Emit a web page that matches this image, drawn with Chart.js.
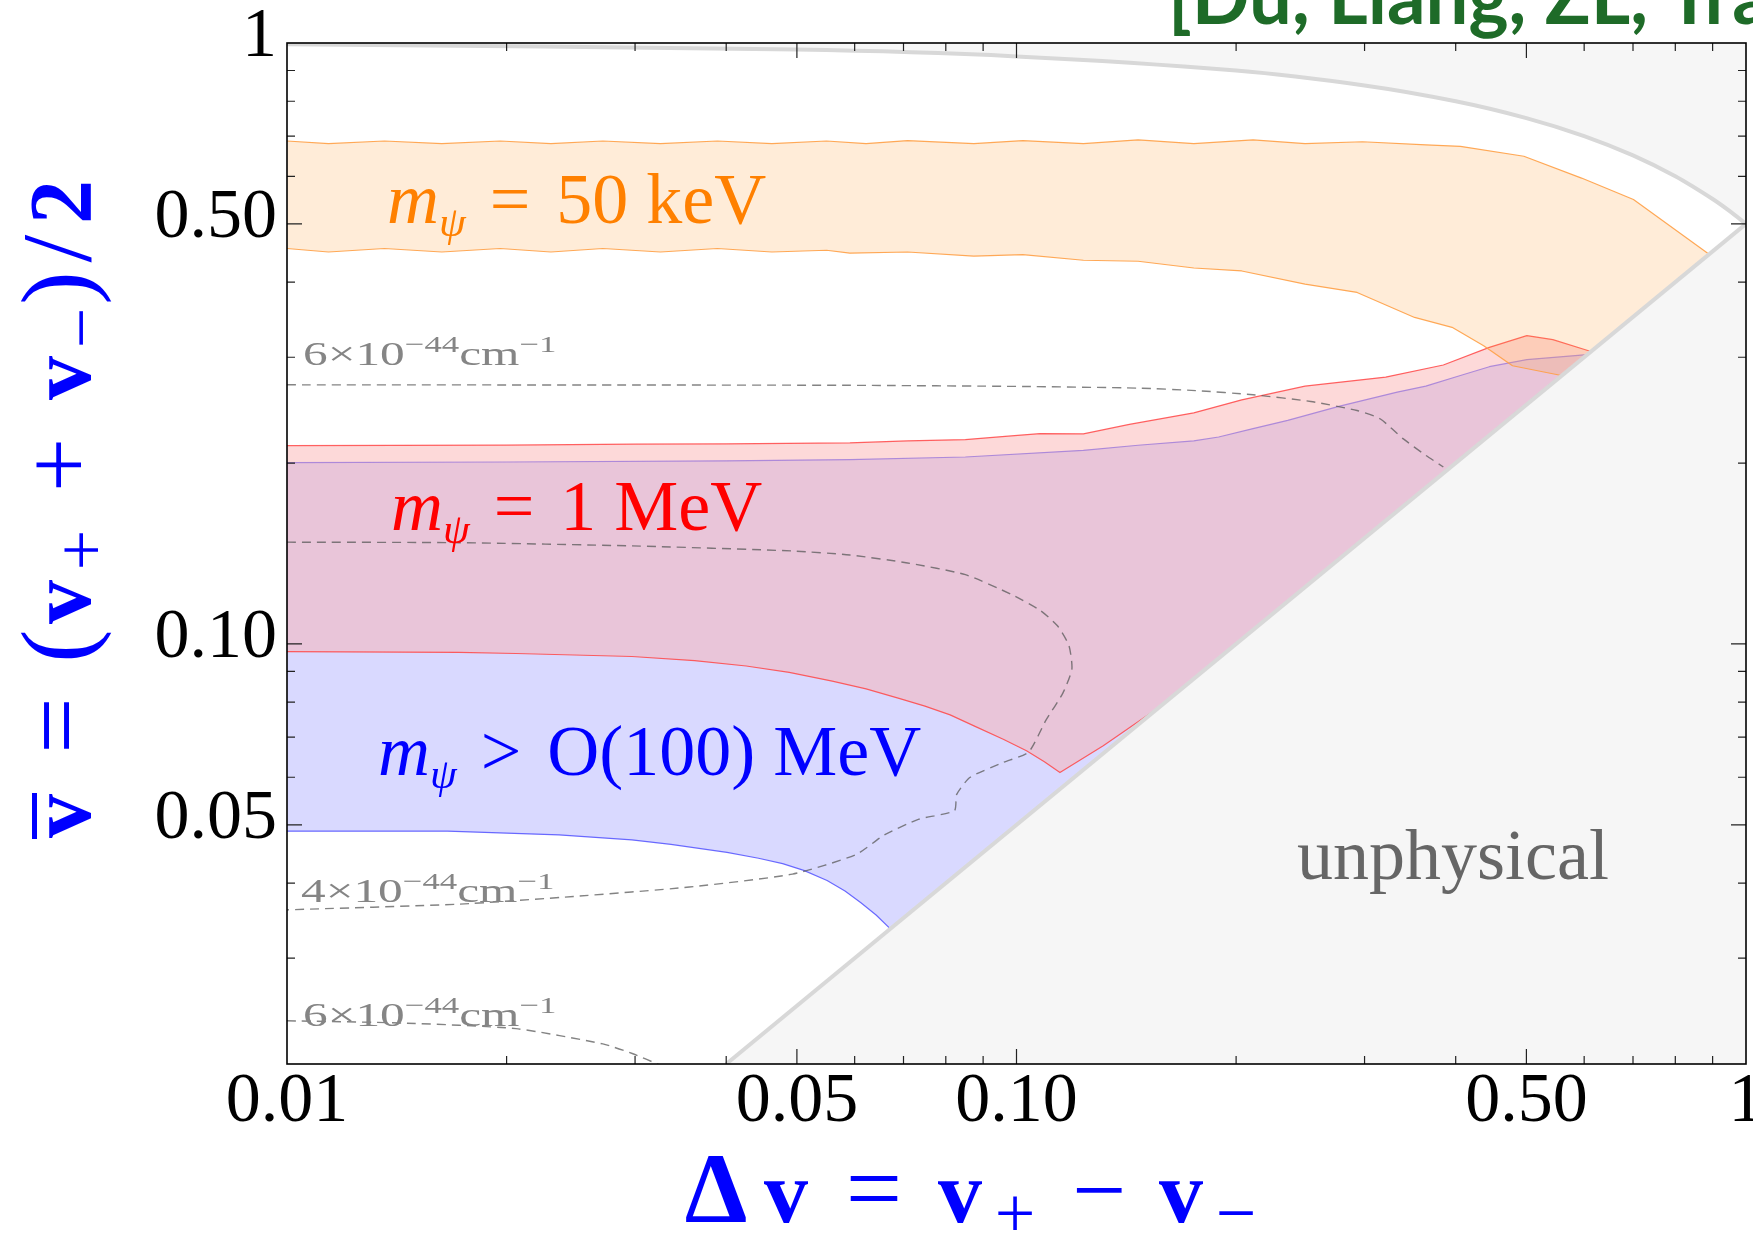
<!DOCTYPE html>
<html>
<head>
<meta charset="utf-8">
<script src="https://cdn.jsdelivr.net/npm/chart.js@4.4.1/dist/chart.umd.min.js"></script>
<style>
  html, body { margin: 0; padding: 0; background: #fff; }
  #wrap { width: 1753px; height: 1238px; }
</style>
</head>
<body>
<div id="wrap"><canvas id="phase" width="1753" height="1238"></canvas></div>
<script>
// axes (log-log)
var xMin = 0.01, xMax = 1;
var yMin = 0.02, yMax = 1;
var xTickValues = [0.01, 0.05, 0.1, 0.5, 1];
var xTickText = ['0.01', '0.05', '0.10', '0.50', '1'];
var yTickValues = [0.05, 0.1, 0.5, 1];
var yTickText = ['0.05', '0.10', '0.50', '1'];

// physical boundaries: v+ = 1 (top curve) and v- = 0 (diagonal)
var vmaxX = [0.01, 0.05, 0.1, 0.2, 0.3, 0.4, 0.5, 0.6, 0.7, 0.8, 0.9, 0.95, 1];
var vmaxY = [0.995, 0.975, 0.95, 0.9, 0.85, 0.8, 0.75, 0.7, 0.65, 0.6, 0.55, 0.525, 0.5];
var vminX = [0.04, 1];
var vminY = [0.02, 0.5];

// m_psi = 50 keV band
var orangeUpX = [0.01, 0.0114, 0.0136, 0.0163, 0.0196, 0.023, 0.0271, 0.0325, 0.0389, 0.0462, 0.0549, 0.0622, 0.0709, 0.0874, 0.102, 0.1235, 0.1468, 0.175, 0.211, 0.2486, 0.298, 0.364, 0.406, 0.496, 0.595, 0.701, 0.89];
var orangeUpY = [0.687, 0.680, 0.687, 0.680, 0.687, 0.680, 0.687, 0.680, 0.687, 0.680, 0.687, 0.680, 0.688, 0.680, 0.688, 0.680, 0.690, 0.680, 0.690, 0.680, 0.685, 0.677, 0.673, 0.648, 0.596, 0.549, 0.445];
var orangeLoX = [0.01, 0.0114, 0.0136, 0.0163, 0.0196, 0.023, 0.0271, 0.0325, 0.0389, 0.0462, 0.0549, 0.0591, 0.0709, 0.0874, 0.102, 0.1235, 0.1468, 0.175, 0.2036, 0.2486, 0.293, 0.3513, 0.3954, 0.4369, 0.4785, 0.5585];
var orangeLoY = [0.455, 0.449, 0.455, 0.449, 0.455, 0.449, 0.455, 0.449, 0.455, 0.449, 0.452, 0.447, 0.449, 0.442, 0.4446, 0.435, 0.4333, 0.4223, 0.4175, 0.3969, 0.3845, 0.3494, 0.3364, 0.3134, 0.2904, 0.2797];

// m_psi = 1 MeV band
var redUpX = [0.01, 0.02, 0.03, 0.04, 0.0591, 0.0709, 0.0851, 0.0984, 0.1077, 0.1235, 0.1428, 0.175, 0.2036, 0.2486, 0.3207, 0.3847, 0.4448, 0.5007, 0.5435, 0.6115];
var redUpY = [0.2138, 0.2142, 0.2150, 0.2152, 0.2160, 0.2177, 0.2188, 0.2219, 0.2239, 0.2236, 0.2319, 0.2424, 0.2548, 0.2685, 0.2780, 0.2912, 0.3116, 0.3258, 0.3209, 0.3069];
var redLoX = [0.01, 0.0172, 0.0206, 0.0297, 0.0362, 0.0426, 0.0488, 0.0559, 0.0622, 0.0692, 0.0749, 0.0811, 0.0882, 0.0959, 0.1032, 0.1092, 0.1147, 0.1315, 0.1565];
var redLoY = [0.0971, 0.0968, 0.0964, 0.0953, 0.0938, 0.0919, 0.0897, 0.0867, 0.0842, 0.0811, 0.0788, 0.0762, 0.0727, 0.0694, 0.0664, 0.0637, 0.0611, 0.0677, 0.0783];

// m_psi > O(100) MeV band
var blueUpX = [0.01, 0.02, 0.04, 0.0591, 0.0851, 0.1235, 0.1468, 0.175, 0.1893, 0.211, 0.2354, 0.2774, 0.3326, 0.364, 0.406, 0.4448, 0.5007, 0.6058];
var blueUpY = [0.2004, 0.2008, 0.2017, 0.2026, 0.2047, 0.2100, 0.2141, 0.2177, 0.2210, 0.2282, 0.2355, 0.2487, 0.2625, 0.2685, 0.2797, 0.2893, 0.2972, 0.3029];
var blueLoX = [0.01, 0.0166, 0.0236, 0.0297, 0.0336, 0.0401, 0.0443, 0.0478, 0.0511, 0.055, 0.0582, 0.0612, 0.0642, 0.0671];
var blueLoY = [0.0488, 0.0488, 0.0481, 0.0472, 0.0464, 0.0450, 0.0440, 0.0431, 0.0420, 0.0404, 0.0388, 0.0371, 0.0354, 0.0336];

// dashed contours
var contourLevels = ['6', '4', '6'];
var cAX = [0.01, 0.03, 0.0591, 0.102, 0.1468, 0.176, 0.211, 0.2532, 0.293, 0.315, 0.3387, 0.364, 0.3847];
var cAY = [0.2699, 0.2697, 0.2694, 0.2682, 0.2665, 0.264, 0.2598, 0.2532, 0.2446, 0.237, 0.2196, 0.206, 0.197];
var cBX = [0.01, 0.0172, 0.0297, 0.0493, 0.0591, 0.0709, 0.0851, 0.0984, 0.1077, 0.1138, 0.118, 0.1191, 0.1158, 0.1097, 0.1039, 0.0959, 0.0864, 0.0828, 0.0822, 0.0735, 0.0659, 0.0602, 0.0493, 0.0356, 0.0247, 0.0172, 0.01];
var cBY = [0.1477, 0.1474, 0.1456, 0.1428, 0.1406, 0.1364, 0.1304, 0.1209, 0.1138, 0.1072, 0.0994, 0.0908, 0.0829, 0.0746, 0.0661, 0.0635, 0.06, 0.0562, 0.0528, 0.0511, 0.0481, 0.0446, 0.0414, 0.0394, 0.038, 0.0369, 0.0361];
var cCX = [0.01, 0.0144, 0.0206, 0.0271, 0.0298, 0.0325];
var cCY = [0.0236, 0.0234, 0.0229, 0.0216, 0.0208, 0.0199];

var SERIF = "'Liberation Serif', 'Times New Roman', serif";

function pts(xs, ys) {
  return xs.map(function (x, i) { return { x: x, y: ys[i] }; });
}
// closed outline: upper edge left->right, then lower edge back
function band(ux, uy, lx, ly) {
  return pts(ux, uy).concat(pts(lx, ly).reverse());
}
function isMajor(list, v) {
  return list.some(function (t) { return Math.abs(t - v) < 1e-9; });
}

function drawRuns(ctx, runs, x, y) {
  ctx.textAlign = 'left';
  runs.forEach(function (r) {
    x += r.pre || 0;
    ctx.font = r.font;
    ctx.fillText(r.t, x, y + (r.dy || 0));
    x += ctx.measureText(r.t).width + (r.post || 0);
  });
}
function massRuns(rel, rest) {
  return [
    { t: 'm', font: 'italic 72px ' + SERIF },
    { t: 'ψ', font: 'italic 43px ' + SERIF, dy: 13 },
    { t: rel, font: '72px ' + SERIF, pre: 24, post: 26 },
    { t: rest, font: '72px ' + SERIF }
  ];
}

// frame with inward ticks on all four sides
var frame = {
  id: 'frame',
  afterDatasetsDraw: function (chart) {
    var ctx = chart.ctx, a = chart.chartArea;
    var sx = chart.scales.x, sy = chart.scales.y;
    ctx.save();
    ctx.strokeStyle = '#222';
    ctx.lineWidth = 1.2;
    ctx.beginPath();
    [0.01, 0.1].forEach(function (d) {
      for (var m = 1; m <= 9; m++) {
        var v = m * d, len;
        if (v > xMin && v < xMax) {
          var px = sx.getPixelForValue(v);
          len = isMajor(xTickValues, v) ? 15 : 8;
          ctx.moveTo(px, a.bottom); ctx.lineTo(px, a.bottom - len);
          ctx.moveTo(px, a.top); ctx.lineTo(px, a.top + len);
        }
        if (v > yMin && v < yMax) {
          var py = sy.getPixelForValue(v);
          len = isMajor(yTickValues, v) ? 15 : 8;
          ctx.moveTo(a.left, py); ctx.lineTo(a.left + len, py);
          ctx.moveTo(a.right, py); ctx.lineTo(a.right - len, py);
        }
      }
    });
    ctx.stroke();
    ctx.lineWidth = 1.6;
    ctx.strokeStyle = '#000';
    ctx.strokeRect(a.left, a.top, a.right - a.left, a.bottom - a.top);
    ctx.restore();
  }
};

var notes = {
  id: 'notes',
  afterDatasetsDraw: function (chart) {
    var ctx = chart.ctx;
    ctx.save();
    ctx.textBaseline = 'alphabetic';
    ctx.fillStyle = '#ff8000';
    drawRuns(ctx, massRuns('=', '50 keV'), 387, 223);
    ctx.fillStyle = '#ff0000';
    drawRuns(ctx, massRuns('=', '1 MeV'), 391, 530);
    ctx.fillStyle = '#0000ff';
    drawRuns(ctx, massRuns('>', 'O(100) MeV'), 378, 775);
    ctx.fillStyle = '#666';
    ctx.font = '72px ' + SERIF;
    ctx.fillText('unphysical', 1297, 879);

    // contour level labels (stretched like the original)
    var spots = [[303, 365], [301, 902], [303, 1026]];
    ctx.fillStyle = '#858585';
    contourLevels.forEach(function (lv, i) {
      ctx.save();
      ctx.translate(spots[i][0], spots[i][1]);
      ctx.scale(1.45, 1);
      drawRuns(ctx, [
        { t: lv + '×10', font: '34px ' + SERIF },
        { t: '−44', font: '24px ' + SERIF, dy: -13 },
        { t: 'cm', font: '34px ' + SERIF },
        { t: '−1', font: '24px ' + SERIF, dy: -13 }
      ], 0, 0);
      ctx.restore();
    });
    ctx.restore();
  }
};

var titles = {
  id: 'titles',
  afterDraw: function (chart) {
    var ctx = chart.ctx;
    ctx.save();
    ctx.textBaseline = 'alphabetic';
    ctx.fillStyle = '#0000ff';
    ctx.textAlign = 'center';
    var B = 'bold 88px ' + SERIF;
    // x title: centres of each piece
    [
      { t: 'Δ', font: 'bold 100px ' + SERIF, c: 716 },
      { t: 'v', font: B, c: 786 },
      { t: '=', font: '100px ' + SERIF, c: 874 },
      { t: 'v', font: B, c: 960 },
      { t: '+', font: '72px ' + SERIF, c: 1015, dy: 15 },
      { t: '−', font: '96px ' + SERIF, c: 1099 },
      { t: 'v', font: B, c: 1181 },
      { t: '−', font: '72px ' + SERIF, c: 1236, dy: 15 }
    ].forEach(function (p) {
      ctx.font = p.font;
      ctx.fillText(p.t, p.c, 1222 + (p.dy || 0));
    });

    // y title, rotated; slots laid out along the axis
    var slots = [
      { t: 'v', font: B, w: 56, bar: true },
      { t: '=', font: '100px ' + SERIF, w: 125 },
      { t: '(', font: '100px ' + SERIF, w: 34 },
      { t: 'v', font: B, w: 54 },
      { t: '+', font: '72px ' + SERIF, w: 50, dy: 15 },
      { t: '+', font: '96px ' + SERIF, w: 120 },
      { t: 'v', font: B, w: 54 },
      { t: '−', font: '72px ' + SERIF, w: 46, dy: 15 },
      { t: ')', font: '100px ' + SERIF, w: 34 },
      { t: '/', font: '100px ' + SERIF, w: 45 },
      { t: '2', font: B, w: 48 }
    ];
    var total = slots.reduce(function (s, p) { return s + p.w; }, 0);
    ctx.save();
    ctx.translate(90, 511);
    ctx.rotate(-Math.PI / 2);
    var u = -total / 2;
    slots.forEach(function (p) {
      ctx.font = p.font;
      ctx.fillText(p.t, u + p.w / 2, p.dy || 0);
      if (p.bar) ctx.fillRect(u + p.w / 2 - 23, -58, 46, 5);
      u += p.w;
    });
    ctx.restore();

    // citation, cut by the top/right edge as in the slide
    ctx.textAlign = 'left';
    ctx.fillStyle = '#1e6b28';
    ctx.font = 'bold 76px Lato, "Open Sans", sans-serif';
    ctx.fillText('[Du, Liang, ZL, Tra', 1168, 24);
    ctx.restore();
  }
};

var lineBase = { pointRadius: 0, pointHoverRadius: 0, borderJoinStyle: 'round' };
function ds(o) { return Object.assign({}, lineBase, o); }

var chart = new Chart(document.getElementById('phase'), {
  type: 'line',
  data: {
    datasets: [
      ds({ data: pts(vmaxX, vmaxY), fill: 'end', backgroundColor: '#f6f6f6', borderWidth: 0, tension: 0.3, order: 10 }),
      ds({ data: pts(vminX, vminY), fill: 'start', backgroundColor: '#f6f6f6', borderWidth: 0, order: 10 }),
      ds({ data: band(blueUpX, blueUpY, blueLoX, blueLoY), fill: 'shape', backgroundColor: 'rgba(0,0,255,0.15)', borderColor: 'rgba(90,90,255,0.9)', borderWidth: 1.2, order: 9 }),
      ds({ data: band(redUpX, redUpY, redLoX, redLoY), fill: 'shape', backgroundColor: 'rgba(251,175,175,0.47)', borderColor: 'rgba(255,70,70,0.85)', borderWidth: 1.2, order: 8 }),
      ds({ data: band(orangeUpX, orangeUpY, orangeLoX, orangeLoY), fill: 'shape', backgroundColor: 'rgba(255,160,60,0.2)', borderColor: 'rgba(255,160,70,0.9)', borderWidth: 1.2, order: 7 }),
      ds({ data: pts(vmaxX, vmaxY), fill: false, borderColor: '#d8d8d8', borderWidth: 4, tension: 0.3, order: 6 }),
      ds({ data: pts(vminX, vminY), fill: false, borderColor: '#d8d8d8', borderWidth: 4, order: 6 }),
      ds({ data: pts(cAX, cAY), fill: false, borderColor: 'rgba(90,90,90,0.75)', borderWidth: 1.4, borderDash: [9, 6], tension: 0.2, order: 5 }),
      ds({ data: pts(cBX, cBY), fill: false, borderColor: 'rgba(90,90,90,0.75)', borderWidth: 1.4, borderDash: [9, 6], tension: 0.2, order: 5 }),
      ds({ data: pts(cCX, cCY), fill: false, borderColor: 'rgba(90,90,90,0.75)', borderWidth: 1.4, borderDash: [9, 6], tension: 0.2, order: 5 })
    ]
  },
  options: {
    responsive: false,
    animation: false,
    layout: { padding: { top: 43, right: 7, left: 0, bottom: 0 } },
    plugins: { legend: { display: false }, tooltip: { enabled: false } },
    scales: {
      x: {
        type: 'logarithmic', min: xMin, max: xMax,
        grid: { display: false, drawTicks: false },
        border: { display: false },
        afterBuildTicks: function (s) { s.ticks = xTickValues.map(function (v) { return { value: v }; }); },
        afterFit: function (s) { s.height = 174; s.paddingLeft = 0; s.paddingRight = 0; },
        ticks: {
          autoSkip: false, maxRotation: 0, padding: 4, color: '#000',
          font: { family: SERIF, size: 70, lineHeight: 1 },
          callback: function (v, i) { return xTickText[i]; }
        }
      },
      y: {
        type: 'logarithmic', min: yMin, max: yMax,
        grid: { display: false, drawTicks: false },
        border: { display: false },
        afterBuildTicks: function (s) { s.ticks = yTickValues.map(function (v) { return { value: v }; }); },
        afterFit: function (s) { s.width = 287; s.paddingTop = 0; s.paddingBottom = 0; },
        ticks: {
          autoSkip: false, padding: 10, color: '#000', labelOffset: -5,
          font: { family: SERIF, size: 70 },
          callback: function (v, i) { return yTickText[i]; }
        }
      }
    }
  },
  plugins: [frame, notes, titles]
});
</script>
</body>
</html>
